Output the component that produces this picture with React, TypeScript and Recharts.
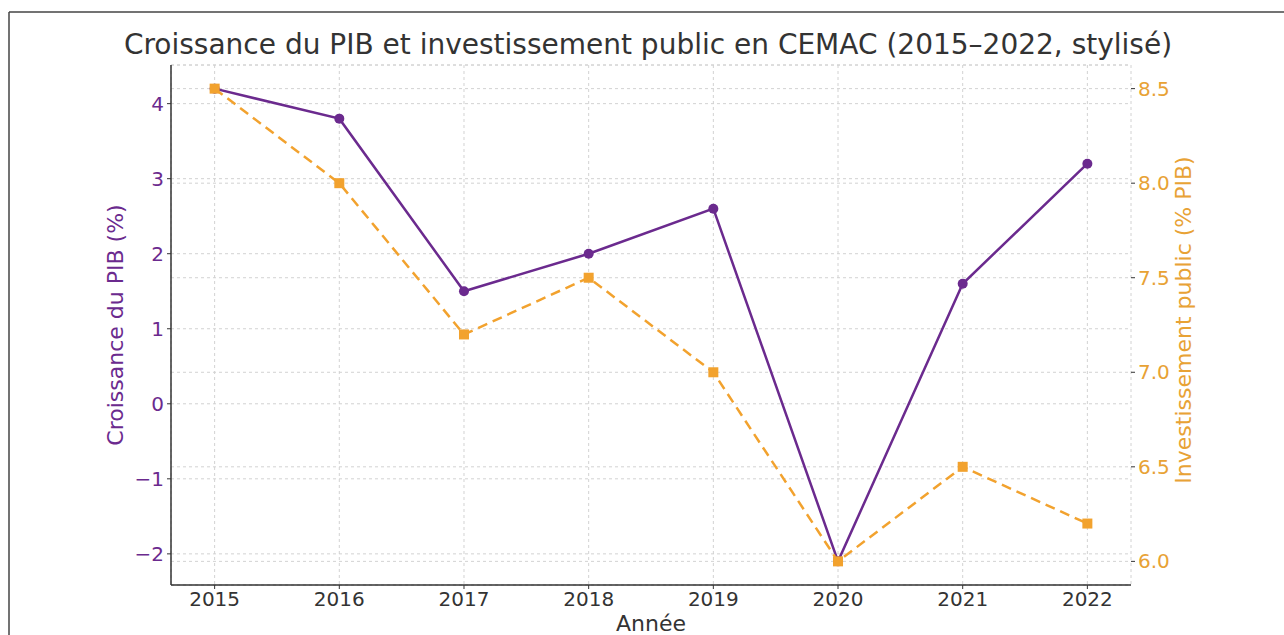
import { LineChart, Line, XAxis, YAxis, CartesianGrid } from "recharts";

const YEARS = [2015, 2016, 2017, 2018, 2019, 2020, 2021, 2022];
const GDP_GROWTH = [4.2, 3.8, 1.5, 2.0, 2.6, -2.1, 1.6, 3.2];
const PUBLIC_INVESTMENT = [8.5, 8.0, 7.2, 7.5, 7.0, 6.0, 6.5, 6.2];
const GDP_TICKS = [-2, -1, 0, 1, 2, 3, 4];
const INVEST_TICKS = [6.0, 6.5, 7.0, 7.5, 8.0, 8.5];

const PURPLE = "#6b2a8e";
const ORANGE = "#f2a22e";
const ORANGE_TEXT = "#e8a235";
const INK = "#333333";
const FONT = "'DejaVu Sans', sans-serif";

const W = 1284;
const H = 635;

// matplotlib-like 5% margins around the data range
const pad = (vals: number[], frac = 0.05): [number, number] => {
  const lo = Math.min(...vals);
  const hi = Math.max(...vals);
  const d = (hi - lo) * frac;
  return [lo - d, hi + d];
};

const data = YEARS.map((year, i) => ({
  year,
  gdp: GDP_GROWTH[i],
  invest: PUBLIC_INVESTMENT[i],
}));

const fmtMinus = (v: number) => (v < 0 ? "\u2212" + Math.abs(v) : String(v));

function SquareDot(props: any) {
  const { cx, cy, index } = props;
  if (cx == null || cy == null) return null;
  return (
    <rect key={`sq-${index}`} x={cx - 5} y={cy - 5} width={10} height={10} fill={ORANGE} />
  );
}

export default function App() {
  return (
    <div style={{ position: "absolute", left: 0, top: 0, width: W, height: H, background: "#fff", overflow: "hidden" }}>
      <LineChart
        width={W}
        height={H}
        data={data}
        margin={{ top: 65, right: 93, bottom: 20, left: 111 }}
      >
        <CartesianGrid
          xAxisId="x"
          yAxisId="left"
          stroke="#d2d2d2"
          strokeDasharray="3 3"
        />
        <CartesianGrid
          xAxisId="x"
          yAxisId="right"
          vertical={false}
          stroke="#d2d2d2"
          strokeDasharray="3 3"
        />
        <XAxis
          xAxisId="x"
          dataKey="year"
          type="number"
          domain={pad(YEARS)}
          ticks={YEARS}
          height={30}
          axisLine={{ stroke: INK, strokeWidth: 1.5 }}
          tickLine={{ stroke: INK }}
          tickSize={4}
          tickMargin={3}
          tick={{ fill: INK, fontSize: 20, fontFamily: FONT }}
          allowDataOverflow
        />
        <YAxis
          yAxisId="left"
          orientation="left"
          width={60}
          domain={pad(GDP_GROWTH)}
          ticks={GDP_TICKS}
          tickFormatter={fmtMinus}
          axisLine={{ stroke: INK, strokeWidth: 1.5 }}
          tickLine={{ stroke: INK }}
          tickSize={4}
          tickMargin={3}
          tick={{ fill: PURPLE, fontSize: 20, fontFamily: FONT }}
          allowDataOverflow
        />
        <YAxis
          yAxisId="right"
          orientation="right"
          width={60}
          domain={pad(PUBLIC_INVESTMENT)}
          ticks={INVEST_TICKS}
          tickFormatter={(v: number) => v.toFixed(1)}
          axisLine={false}
          tickLine={{ stroke: INK }}
          tickSize={4}
          tickMargin={3}
          tick={{ fill: ORANGE_TEXT, fontSize: 20, fontFamily: FONT }}
          allowDataOverflow
        />
        <Line
          xAxisId="x"
          yAxisId="left"
          type="linear"
          dataKey="gdp"
          stroke={PURPLE}
          strokeWidth={2.5}
          dot={{ r: 5, fill: PURPLE, stroke: PURPLE, strokeWidth: 0 }}
          isAnimationActive={false}
        />
        <Line
          xAxisId="x"
          yAxisId="right"
          type="linear"
          dataKey="invest"
          stroke={ORANGE}
          strokeWidth={2.5}
          strokeDasharray="10 6"
          dot={<SquareDot />}
          isAnimationActive={false}
        />
      </LineChart>
      <svg
        width={W}
        height={H}
        style={{ position: "absolute", left: 0, top: 0, pointerEvents: "none" }}
      >
        <line x1={9} y1={12} x2={W} y2={12} stroke="#444" strokeWidth={1.5} />
        <line x1={9} y1={12} x2={9} y2={H} stroke="#444" strokeWidth={1.5} />
        <text x={648} y={54} textAnchor="middle" fontSize={28} fontFamily={FONT} fill={INK}>
          Croissance du PIB et investissement public en CEMAC (2015–2022, stylisé)
        </text>
        <text
          x={123}
          y={325}
          transform="rotate(-90 123 325)"
          textAnchor="middle"
          fontSize={22}
          fontFamily={FONT}
          fill={PURPLE}
        >
          Croissance du PIB (%)
        </text>
        <text
          x={1191}
          y={320}
          transform="rotate(-90 1191 320)"
          textAnchor="middle"
          fontSize={22}
          fontFamily={FONT}
          fill={ORANGE_TEXT}
        >
          Investissement public (% PIB)
        </text>
        <text x={651} y={631} textAnchor="middle" fontSize={22} fontFamily={FONT} fill={INK}>
          Année
        </text>
      </svg>
    </div>
  );
}
